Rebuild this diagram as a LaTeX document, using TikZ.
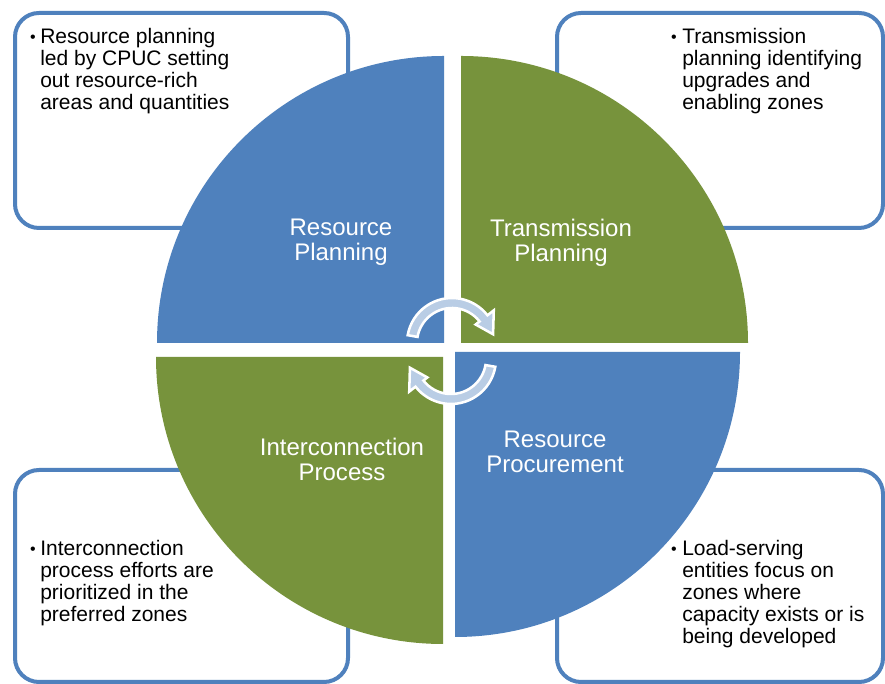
\documentclass[tikz,border=0pt]{standalone}
\usepackage{fontspec}
\setmainfont{Liberation Sans}
\usetikzlibrary{calc}
\definecolor{pblue}{HTML}{4F81BD}
\definecolor{pgreen}{HTML}{77933C}
\definecolor{plight}{HTML}{B9CDE5}
\begin{document}
\begin{tikzpicture}[x=0.75pt,y=0.75pt,
 infobox/.style={draw=pblue, line width=3pt, rounded corners=18pt, fill=white},
 qlabel/.style={text=white, align=center, inner sep=0pt, font=\fontsize{18}{18.75}\selectfont},
 btext/.style={anchor=north west, align=left, inner sep=0pt, font=\fontsize{15.75}{16.5}\selectfont},
 bul/.style={anchor=base, inner sep=0pt, font=\fontsize{12}{12}\selectfont},
 cyc/.style={fill=plight, draw=white, line width=1.9pt, line join=miter}
]
\useasboundingbox (0,0) rectangle (885,684);
\fill[white] (0,0) rectangle (885,684);
% info boxes
\draw[infobox] (15,456) rectangle (348,671);
\draw[infobox] (557,456) rectangle (883,671);
\draw[infobox] (15,2) rectangle (348,214);
\draw[infobox] (557,2) rectangle (883,214);
% quadrants
\fill[pblue] (444,341) -- (444,628) arc[start angle=90,end angle=180,radius=287] -- cycle;
\fill[pgreen] (461,341) -- (748,341) arc[start angle=0,end angle=90,radius=287] -- cycle;
\fill[pgreen] (443,327) -- (156,327) arc[start angle=180,end angle=270,radius=287] -- cycle;
\fill[pblue] (455,332) -- (455,47) arc[start angle=270,end angle=360,radius=285] -- cycle;
% quadrant labels
\node[qlabel] (rp) at (341,441.5) {Resource\\Planning};
\node[qlabel] (tp) at (561,441.5) {Transmission\\Planning};
\node[qlabel] (ip) at (342,225) {Interconnection\\Process};
\node[qlabel] (rpr) at (555,232) {Resource\\Procurement};
% cycle arrows
\coordinate (c1) at (452,341);
\coordinate (c2) at (451,325);
\path[cyc] ($(c1)+(170:45)$) arc[start angle=170,end angle=38,radius=45]
  -- ($(c1)+(38:53)$) -- ($(c1)+(12:42)$) -- ($(c1)+(38:30)$) -- ($(c1)+(38:35)$)
  arc[start angle=38,end angle=170,radius=35] -- cycle;
\path[cyc] ($(c2)+(-10:45)$) arc[start angle=-10,end angle=-142,radius=45]
  -- ($(c2)+(-142:53)$) -- ($(c2)+(-168:42)$) -- ($(c2)+(-142:30)$) -- ($(c2)+(-142:35)$)
  arc[start angle=-142,end angle=-10,radius=35] -- cycle;
% bullet texts
\node[bul] (b1) at (33,641) {•};
\node[btext] (t1) at (40,656) {Resource planning\\led by CPUC setting\\out resource-rich\\areas and quantities};
\node[bul] (b2) at (674,641) {•};
\node[btext] (t2) at (682,656) {Transmission\\planning identifying\\upgrades and\\enabling zones};
\node[bul] (b3) at (33,129) {•};
\node[btext] (t3) at (40,144) {Interconnection\\process efforts are\\prioritized in the\\preferred zones};
\node[bul] (b4) at (674,129) {•};
\node[btext] (t4) at (682,144) {Load-serving\\entities focus on\\zones where\\capacity exists or is\\being developed};
\end{tikzpicture}
\end{document}
